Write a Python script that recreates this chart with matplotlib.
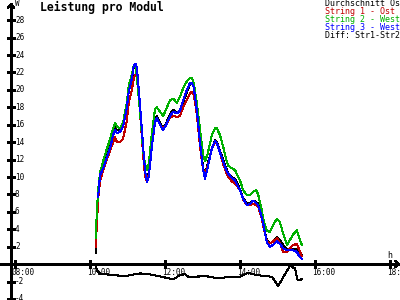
import numpy as np
import matplotlib
matplotlib.use('Agg')
import matplotlib.pyplot as plt

# Leistung pro Modul (W) ueber die Uhrzeit
times = ['10:09', '10:11', '10:13', '10:16', '10:21', '10:26', '10:32', '10:37',
         '10:40', '10:43', '10:48', '10:53', '10:59', '11:02', '11:07', '11:10',
         '11:13', '11:15', '11:20', '11:25', '11:28', '11:31', '11:34', '11:39',
         '11:44', '11:47', '11:52', '11:57', '12:02', '12:08', '12:13', '12:19',
         '12:24', '12:29', '12:35', '12:40', '12:43', '12:46', '12:51', '12:56',
         '13:01', '13:04', '13:08', '13:15', '13:20', '13:23', '13:28', '13:33',
         '13:38', '13:41', '13:47', '13:52', '14:00', '14:05', '14:11', '14:16',
         '14:21', '14:26', '14:29', '14:34', '14:37', '14:43', '14:48', '14:53',
         '14:59', '15:04', '15:09', '15:15', '15:20', '15:25', '15:31', '15:34',
         '15:39']
avg = [1.3, 5.0, 8.0, 10.0, 11.2, 12.3, 13.5, 15.0,
       15.8, 15.4, 15.3, 16.0, 18.0, 19.8, 21.2, 22.6,
       23.0, 22.2, 18.0, 13.0, 10.5, 9.6, 10.5, 14.0,
       16.5, 17.0, 16.2, 15.6, 16.2, 17.2, 17.7, 17.4,
       17.6, 18.6, 19.7, 20.7, 20.8, 20.3, 17.6, 14.0,
       11.0, 10.2, 11.4, 13.3, 14.2, 14.0, 13.0, 12.0,
       11.0, 10.4, 10.0, 9.8, 8.6, 7.6, 7.0, 7.0,
       7.3, 7.1, 7.0, 5.8, 4.7, 2.7, 2.4, 2.6,
       3.1, 2.8, 2.2, 1.7, 1.6, 1.7, 1.7, 1.4,
       1.0]
str1 = [2.0, 4.5, 7.5, 9.5, 10.8, 11.8, 13.0, 14.0,
        14.6, 14.0, 14.0, 14.4, 16.5, 18.5, 20.0, 21.3,
        21.8, 21.5, 17.5, 12.5, 10.2, 9.5, 10.3, 13.5,
        16.2, 16.7, 16.0, 15.6, 16.0, 16.8, 17.0, 16.9,
        17.0, 18.0, 18.9, 19.6, 19.8, 19.5, 17.2, 13.5,
        10.8, 10.3, 11.2, 13.3, 14.0, 13.8, 12.8, 11.5,
        10.5, 10.0, 9.5, 9.3, 8.5, 7.4, 6.8, 6.8,
        6.9, 6.8, 6.6, 5.5, 4.4, 2.6, 2.4, 2.6,
        3.0, 2.4, 1.4, 1.4, 1.8, 2.2, 2.3, 1.8,
        0.9]
str2 = [3.0, 6.0, 8.5, 10.5, 11.8, 13.0, 14.3, 15.6,
        16.2, 15.8, 15.6, 16.3, 18.5, 20.5, 21.8, 22.8,
        22.9, 21.5, 17.5, 13.0, 11.5, 10.8, 11.5, 15.0,
        17.8, 18.0, 17.5, 17.0, 17.8, 18.8, 19.0, 18.5,
        19.2, 20.2, 21.0, 21.4, 21.4, 20.8, 18.5, 15.5,
        12.5, 11.8, 12.6, 14.8, 15.6, 15.6, 14.8, 13.5,
        12.0, 11.3, 11.0, 10.8, 9.6, 8.5, 7.9, 7.9,
        8.3, 8.5, 8.0, 6.5, 5.2, 3.8, 3.7, 4.5,
        5.2, 4.8, 3.5, 2.2, 2.8, 3.4, 3.9, 3.2,
        2.2]
str3 = [np.nan, np.nan, 7.7, 10.2, 11.0, 12.0, 13.3, 14.8,
        15.4, 15.0, 15.2, 15.8, 18.0, 19.8, 21.3, 22.8,
        23.0, 22.6, 18.3, 13.5, 10.8, 9.4, 10.0, 13.5,
        16.3, 16.8, 16.0, 15.4, 16.0, 17.0, 17.5, 17.3,
        17.6, 18.8, 20.0, 20.8, 20.8, 20.3, 17.6, 14.0,
        10.8, 9.8, 11.0, 13.3, 14.1, 13.9, 12.8, 11.8,
        10.8, 10.4, 9.9, 9.6, 8.5, 7.5, 6.8, 6.9,
        7.3, 7.0, 6.8, 5.6, 4.7, 2.5, 2.0, 2.2,
        2.6, 2.3, 1.8, 1.6, 1.6, 1.6, 1.4, 1.0,
        0.6]

diff_times = ['10:09', '10:12', '10:16', '10:30', '10:58', '11:04', '11:20', '11:33',
              '11:52', '12:13', '12:24', '12:32', '12:37', '13:07', '13:23', '13:28',
              '13:44', '14:00', '14:11', '14:16', '14:27', '14:51', '15:01', '15:20',
              '15:28', '15:32', '15:39']
diff = [-0.2, -0.8, -1.1, -1.2, -1.4, -1.26, -1.07, -1.15,
        -1.4, -1.76, -1.26, -1.15, -1.45, -1.4, -1.6, -1.6,
        -1.45, -1.45, -1.07, -1.07, -1.26, -1.45, -2.5, -0.2,
        -0.5, -1.8, -1.76]

legend_labels = ['Durchschnitt Ost', 'String 1 - Ost', 'String 2 - West',
                 'String 3 - West', 'Diff: Str1-Str2']
colors = ['black', '#c00000', '#00b000', '#0000ff', 'black']

hour_ticks = [8, 10, 12, 14, 16, 18]
w_ticks = [-4, -2, 2, 4, 6, 8, 10, 12, 14, 16, 18, 20, 22, 24, 26, 28]


def to_hours(lst):
    return np.array([int(t[:2]) + int(t[3:]) / 60 for t in lst])


mono = 'DejaVu Sans Mono'
fig = plt.figure(figsize=(4, 3), dpi=100)
ax = fig.add_axes([0, 0, 1, 1])
ax.set_xlim(7.6, 18.267)
ax.set_ylim(-4.12, 30.32)
ax.axis('off')

# pixel sizes in data units
px_x = (18.267 - 7.6) / 400
px_y = (30.32 + 4.12) / 300
x0 = 8 - 4 * px_x  # y axis position
lw = 0.75

# axes with arrows
ax.plot([x0, x0], [-4.2, 29.9], color='black', lw=lw, antialiased=False)
ax.plot([x0 - 3 * px_x, x0, x0 + 3 * px_x], [29.9 - 4 * px_y, 29.9, 29.9 - 4 * px_y],
        color='black', lw=lw, antialiased=False)
ax.plot([7.6, 18.25], [0, 0], color='black', lw=lw, antialiased=False)
ax.plot([18.25 - 4 * px_x, 18.25, 18.25 - 4 * px_x], [3 * px_y, 0, -3 * px_y],
        color='black', lw=lw, antialiased=False)

for w in w_ticks:
    ax.plot([x0 - 3 * px_x, x0 + 3 * px_x], [w, w], color='black', lw=lw, antialiased=False)
    ax.text(x0 + 4 * px_x, w, str(w), family=mono, fontsize=5.5, va='center', ha='left')

for h in hour_ticks:
    ax.plot([h, h], [3 * px_y, -3 * px_y], color='black', lw=lw, antialiased=False)
    ax.text(h - 3 * px_x, -4 * px_y, '%02d:00' % h, family=mono, fontsize=5.5,
            va='top', ha='left')

ax.text(x0 + 4 * px_x, 29.9, 'W', family=mono, fontsize=5.5, va='center', ha='left')
ax.text(18.267 - 13 * px_x, 9 * px_y, 'h', family=mono, fontsize=6, va='center', ha='left')

t = to_hours(times)
ax.plot(t, avg, color=colors[0], lw=lw, antialiased=False)
ax.plot(t, str1, color=colors[1], lw=lw, antialiased=False)
ax.plot(t, str2, color=colors[2], lw=lw, antialiased=False)
ax.plot(t, str3, color=colors[3], lw=lw, antialiased=False)
ax.plot(to_hours(diff_times), diff, color=colors[4], lw=lw, antialiased=False)

fig.text(40 / 400, 1 - 7.5 / 300, 'Leistung pro Modul', family=mono, fontsize=8.3,
         weight='bold', va='center', ha='left')
for i, (lab, c) in enumerate(zip(legend_labels, colors)):
    fig.text(325 / 400, 1 - (4 + 8 * i) / 300, lab, family=mono, fontsize=6,
             color=c, va='center', ha='left')

fig.savefig('out.png', dpi=100, facecolor='white')
